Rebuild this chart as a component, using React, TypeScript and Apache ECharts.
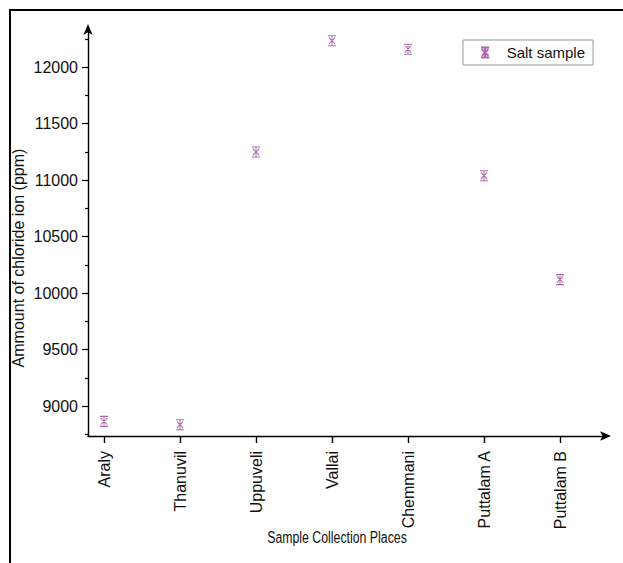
import React, { useEffect, useRef } from "react";
import * as echarts from "echarts";

const categories = ["Araly", "Thanuvil", "Uppuveli", "Vallai", "Chemmani", "Puttalam A", "Puttalam B"];
const chlorideValues = [8865, 8835, 11250, 12235, 12160, 11040, 10120];
const yMajorTicks = [9000, 9500, 10000, 10500, 11000, 11500, 12000];
const yMinorTicks = [8750, 9250, 9750, 10250, 10750, 11250, 11750, 12250];
const seriesName = "Salt sample";
const xTitle = "Sample Collection Places";
const yTitle = "Ammount of chloride ion (ppm)";

const FONT = "Liberation Sans, Arial, sans-serif";
const PURPLE = "#9a3f9a";
const markerPath = "path://M0,0 L10,0 M5,0 L5,12 M0,12 L10,12 M1,2 L9,10 M9,2 L1,10";

export default function App() {
  const ref = useRef<HTMLDivElement>(null);
  useEffect(() => {
    if (!ref.current) return;
    const chart = echarts.init(ref.current, null, { renderer: "svg" });
    const idx = categories.map((_, i) => i);
    const yMin = 8735;
    const yMax = 12330;
    chart.setOption({
      animation: false,
      backgroundColor: "#fff",
      grid: { left: 88, right: 18, top: 30, bottom: 127, containLabel: false },
      legend: {
        left: 463,
        top: 40,
        padding: [5, 8, 5, 17],
        itemWidth: 9,
        itemHeight: 10,
        borderColor: "#999",
        borderWidth: 1,
        borderRadius: 0,
        textStyle: { fontFamily: FONT, fontSize: 15, color: "#111", padding: [0, 0, 0, 12] },
        data: [seriesName],
      },
      xAxis: {
        type: "value",
        min: -16 / 76,
        max: 517 / 76 - 16 / 76,
        splitLine: { show: false },
        axisLine: {
          onZero: false,
          lineStyle: { color: "#000", width: 1.4 },
          symbol: ["none", "arrow"],
          symbolSize: [7, 11],
          symbolOffset: [0, 6],
        },
        axisTick: { show: true, length: 7, customValues: idx, lineStyle: { color: "#000", width: 1.4 } },
        axisLabel: {
          customValues: idx,
          rotate: 90,
          margin: 15,
          fontFamily: FONT,
          fontSize: 16,
          color: "#111",
          formatter: (v: number) => categories[Math.round(v)] ?? "",
        },
      },
      yAxis: [
        {
          type: "value",
          min: yMin,
          max: yMax,
          splitLine: { show: false },
          axisLine: {
            show: true,
            onZero: false,
            lineStyle: { color: "#000", width: 1.4 },
            symbol: ["none", "arrow"],
            symbolSize: [7, 11],
            symbolOffset: [0, 6],
          },
          axisTick: { show: true, length: 6, customValues: yMajorTicks, lineStyle: { color: "#000", width: 1.2 } },
          axisLabel: {
            customValues: yMajorTicks,
            margin: 10,
            fontFamily: FONT,
            fontSize: 16,
            color: "#111",
            formatter: (v: number) => String(v),
          },
        },
        {
          type: "value",
          min: yMin,
          max: yMax,
          position: "left",
          offset: 0,
          splitLine: { show: false },
          axisLine: { show: false, onZero: false },
          axisTick: { show: true, length: 3, customValues: yMinorTicks, lineStyle: { color: "#000", width: 1.2 } },
          axisLabel: { show: false },
        },
      ],
      series: [
        {
          name: seriesName,
          type: "scatter",
          symbol: markerPath,
          symbolSize: [8, 10],
          itemStyle: { color: "rgba(0,0,0,0)", borderColor: PURPLE, borderWidth: 1 },
          data: chlorideValues.map((v, i) => [i, v]),
        },
      ],
      graphic: [
        {
          type: "polyline",
          shape: { points: [[10, 563], [10, 10], [623, 10]] },
          style: { stroke: "#000", lineWidth: 2, fill: "none" },
          silent: true,
        },
        {
          type: "text",
          x: 18,
          y: 258,
          rotation: Math.PI / 2,
          style: {
            text: yTitle,
            fontFamily: FONT,
            fontSize: 16,
            fill: "#111",
            align: "center",
            verticalAlign: "middle",
          },
        },
        {
          type: "text",
          x: 337,
          y: 537,
          scaleX: 0.77,
          style: {
            text: xTitle,
            fontFamily: FONT,
            fontSize: 16,
            fill: "#111",
            align: "center",
            verticalAlign: "middle",
          },
        },
      ],
    });
    return () => chart.dispose();
  }, []);
  return <div ref={ref} style={{ position: "fixed", left: 0, top: 0, width: 623, height: 563 }} />;
}
